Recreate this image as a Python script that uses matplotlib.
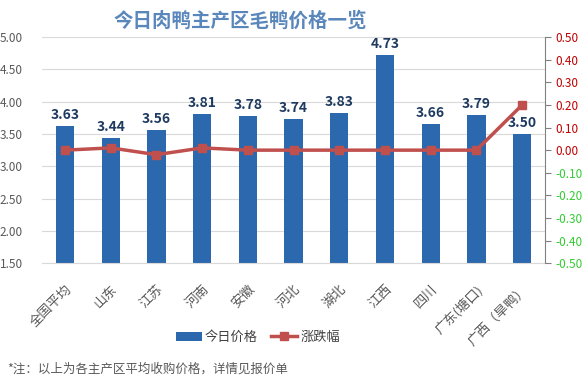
import matplotlib.pyplot as plt
import numpy as np

plt.rcParams['font.family'] = ['Noto Sans CJK SC', 'DejaVu Sans']

regions = ['全国平均', '山东', '江苏', '河南', '安徽', '河北', '湖北', '江西', '四川', '广东(塘口)', '广西（旱鸭）']
price = [3.63, 3.44, 3.56, 3.81, 3.78, 3.74, 3.83, 4.73, 3.66, 3.79, 3.50]
change = [0.00, 0.01, -0.02, 0.01, 0.00, 0.00, 0.00, 0.00, 0.00, 0.00, 0.20]
left_ticks = [1.5, 2.0, 2.5, 3.0, 3.5, 4.0, 4.5, 5.0]
right_ticks = [-0.5, -0.4, -0.3, -0.2, -0.1, 0.0, 0.1, 0.2, 0.3, 0.4, 0.5]

fig = plt.figure(figsize=(5.86, 3.87), dpi=100)
ax = fig.add_axes([0.072, 0.32, 0.858, 0.584])
x = np.arange(len(regions))

bars = ax.bar(x, price, width=0.4, color='#2c68ae', zorder=2, label='今日价格')
for xi, v in zip(x, price):
    ax.text(xi, v + 0.06, f'{v:.2f}', ha='center', va='bottom', fontsize=10,
            fontweight='bold', color='#1f3a60', zorder=5)

ax.set_ylim(1.5, 5.0)
ax.set_xlim(-0.5, len(regions) - 0.5)
ax.set_yticks(left_ticks)
ax.set_yticklabels([f'{t:.2f}' for t in left_ticks], fontsize=8.5, color='#595959')
ax.yaxis.grid(True, color='#d9d9d9', linewidth=0.8, zorder=0)
ax.tick_params(axis='y', length=0, pad=14)
ax.tick_params(axis='x', length=0, pad=14)
ax.set_xticks(x)
ax.set_xticklabels(regions, rotation=45, ha='right', rotation_mode='anchor',
                   fontsize=9.5, color='#595959')
for lab in ax.get_xticklabels():
    lab.set_x(0)
for s in ['top', 'left', 'right']:
    ax.spines[s].set_visible(False)
ax.spines['bottom'].set_color('#d9d9d9')

ax2 = ax.twinx()
line, = ax2.plot(x, change, color='#c0504d', linewidth=2.5, marker='s',
                 markersize=6, zorder=4, label='涨跌幅')
ax2.set_ylim(-0.5, 0.5)
ax2.set_yticks(right_ticks)
ax2.set_yticklabels([f'{t:.2f}' for t in right_ticks], fontsize=8.5)
for lab, t in zip(ax2.get_yticklabels(), right_ticks):
    lab.set_color('#c00000' if t >= 0 else '#33cc33')
ax2.tick_params(axis='y', length=4, color='#808080', direction='out')
for s in ['top', 'left', 'bottom']:
    ax2.spines[s].set_visible(False)
ax2.spines['right'].set_edgecolor('#808080')
ax2.spines['right'].set_linewidth(0.8)

fig.legend([bars, line], ['今日价格', '涨跌幅'], loc='center', bbox_to_anchor=(0.44, 0.128),
           ncol=2, frameon=False, fontsize=9.5, handlelength=2.0, handletextpad=0.2,
           columnspacing=1.0, labelcolor='#404040')

fig.text(0.41, 0.945, '今日肉鸭主产区毛鸭价格一览', ha='center', va='center',
         fontsize=14, fontweight='bold', color='#5a87bb')
fig.text(0.012, 0.045, '*注：以上为各主产区平均收购价格，详情见报价单', ha='left', va='center',
         fontsize=9, color='#595959')

fig.savefig('out.png', dpi=100)
